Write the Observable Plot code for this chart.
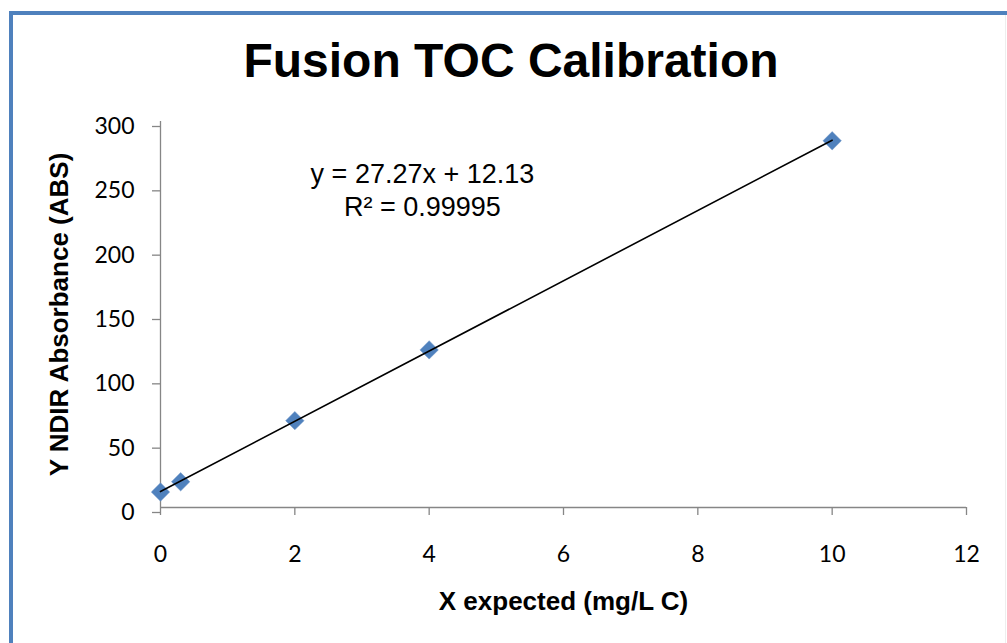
<!DOCTYPE html>
<html>
<head>
<meta charset="utf-8">
<script src="https://cdn.jsdelivr.net/npm/d3@7"></script>
<script src="https://cdn.jsdelivr.net/npm/@observablehq/plot@0.6"></script>
<style>
  html, body { margin: 0; padding: 0; background: #fff; overflow: hidden; }
  #wrap { position: relative; width: 1007px; height: 643px; overflow: hidden; }
  #frame { position: absolute; left: 9px; top: 11px; width: 1020px; height: 700px;
           border: 4px solid #4F81BD; box-sizing: border-box; }
  #edge { position: absolute; left: 1005px; top: 15px; width: 1px; height: 640px; background: #eeeeee; }
  #title { position: absolute; left: 0; width: 1022px; top: 37px; text-align: center;
           font-family: "Liberation Sans", Arial, sans-serif; font-weight: bold; font-size: 48px;
           line-height: 48px; color: #000; margin: 0; }
  #chart { position: absolute; left: 0; top: 0; }
</style>
</head>
<body>
<div id="wrap">
  <div id="frame"></div>
  <div id="edge"></div>
  <div id="chart"></div>
  <h1 id="title">Fusion TOC Calibration</h1>
</div>
<script>
// ---- data ----
const xExpected = [0, 0.3, 2, 4, 10];          // mg/L C
const yAbsorbance = [12, 20, 67.5, 122.5, 285]; // NDIR ABS
const xTicks = [0, 2, 4, 6, 8, 10, 12];
const yTicks = [0, 50, 100, 150, 200, 250, 300];
const equationLines = ["y = 27.27x + 12.13", "R² = 0.99995"];
const xLabel = "X expected (mg/L C)";
const yLabel = "Y NDIR Absorbance (ABS)";

const data = xExpected.map((x, i) => ({x, y: yAbsorbance[i]}));

const axisGray = "#868686";
const tickFont = "Lato, 'Open Sans', sans-serif";
const boldFont = "'Liberation Sans', Arial, sans-serif";

const chart = Plot.plot({
  width: 1007,
  height: 643,
  marginLeft: 160,
  marginRight: 41,
  marginTop: 121,
  marginBottom: 136,
  x: {domain: [0, 12], label: null},
  y: {domain: [0, 300], label: null},
  style: {background: "transparent", fontFamily: tickFont, fontSize: "23px", color: "#000"},
  marks: [
    Plot.ruleX([0], {stroke: axisGray, strokeWidth: 1.3}),
    Plot.ruleY([0], {stroke: axisGray, strokeWidth: 1.3}),
    Plot.axisX({ticks: xTicks, tickSize: 8, tickPadding: 30, stroke: axisGray, strokeWidth: 1.3,
                fill: "#000", fontSize: 23, fontFamily: tickFont, tickFormat: d => String(d), label: null}),
    Plot.axisY({ticks: yTicks, tickSize: 8, tickPadding: 18, stroke: axisGray, strokeWidth: 1.3,
                fill: "#000", fontSize: 23, fontFamily: tickFont, dy: 5, tickFormat: d => String(d), label: null}),
    Plot.dot(data, {x: "x", y: "y", symbol: "diamond2", r: 8.3, fill: "#4F81BD", stroke: "#6f97c9", strokeWidth: 0.5}),
    Plot.linearRegressionY(data, {x: "x", y: "y", stroke: "#000", strokeWidth: 1.6, ci: 0}),
    Plot.text([equationLines.join("\n")], {
      x: () => 3.9, y: () => 252.5, text: d => d, lineAnchor: "bottom", lineHeight: 1.22,
      textAnchor: "middle", fontFamily: boldFont, fontSize: 27, fill: "#000", dy: 33
    }),
    Plot.text([xLabel], {
      frameAnchor: "bottom", lineAnchor: "bottom", dy: 102, text: d => d,
      fontFamily: boldFont, fontWeight: "bold", fontSize: 26, fill: "#000"
    }),
    Plot.text([yLabel], {
      frameAnchor: "left", textAnchor: "middle", lineAnchor: "bottom", rotate: -90, dx: -93, text: d => d,
      fontFamily: boldFont, fontWeight: "bold", fontSize: 26, fill: "#000"
    })
  ]
});
document.getElementById("chart").appendChild(chart);
</script>
</body>
</html>
